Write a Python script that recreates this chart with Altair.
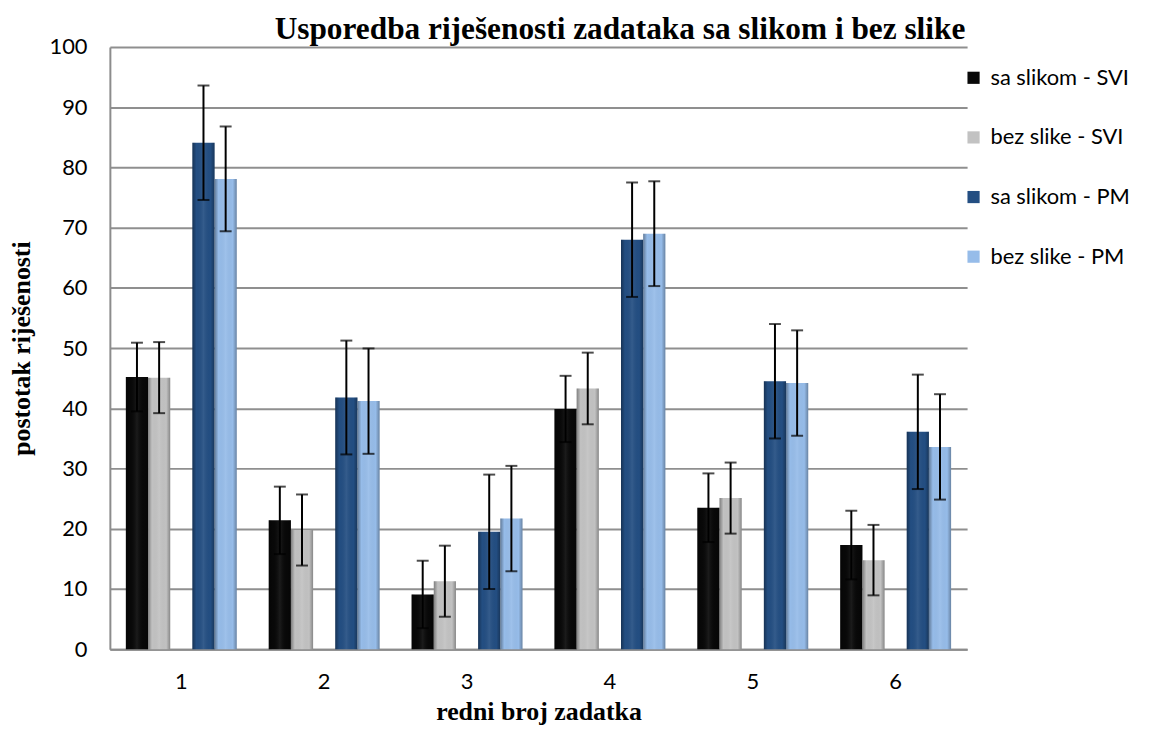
import altair as alt
import pandas as pd

categories = ["1", "2", "3", "4", "5", "6"]
series = ["sa slikom - SVI", "bez slike - SVI", "sa slikom - PM", "bez slike - PM"]
colors = ["#080808", "#c2c2c2", "#234e82", "#96bce9"]

sa_slikom_svi = [45.2, 21.4, 9.1, 39.9, 23.5, 17.3]
bez_slike_svi = [45.1, 19.8, 11.3, 43.3, 25.1, 14.8]
sa_slikom_pm = [84.1, 41.8, 19.5, 68.0, 44.5, 36.1]
bez_slike_pm = [78.1, 41.2, 21.7, 69.0, 44.2, 33.6]

err_sa_slikom_svi = [5.7, 5.6, 5.6, 5.5, 5.7, 5.7]
err_bez_slike_svi = [5.9, 5.9, 5.9, 5.95, 5.9, 5.85]
err_sa_slikom_pm = [9.5, 9.45, 9.5, 9.5, 9.5, 9.5]
err_bez_slike_pm = [8.7, 8.75, 8.75, 8.7, 8.75, 8.75]

vals = [sa_slikom_svi, bez_slike_svi, sa_slikom_pm, bez_slike_pm]
errs = [err_sa_slikom_svi, err_bez_slike_svi, err_sa_slikom_pm, err_bez_slike_pm]

rows = []
for s, vv, ee in zip(series, vals, errs):
    for c, v, e in zip(categories, vv, ee):
        rows.append({"zadatak": c, "serija": s, "vrijednost": v,
                     "lo": v - e, "hi": v + e})
df = pd.DataFrame(rows)

offset_domain = [series[0], series[1], "_", series[2], series[3]]

x_enc = alt.X("zadatak:N",
              scale=alt.Scale(domain=categories, paddingInner=0.224, paddingOuter=0.112),
              axis=alt.Axis(title="redni broj zadatka", labelAngle=0, tickSize=0,
                            labelPadding=22, titlePadding=7, grid=False,
                            domainColor="#8c8c8c", domainWidth=2,
                            labelFont="Lato", labelFontSize=22, labelColor="#000000",
                            titleFont="Liberation Serif", titleFontSize=26,
                            titleFontWeight="bold", titleColor="#000000"))
xo_enc = alt.XOffset("serija:N", scale=alt.Scale(domain=offset_domain, paddingInner=0, paddingOuter=0))
y_axis = alt.Axis(title="postotak riješenosti", values=list(range(0, 101, 10)),
                  tickSize=0, labelPadding=23, titlePadding=15,
                  gridColor="#8f8f8f", gridWidth=2, domainColor="#8c8c8c", domainWidth=2,
                  labelFont="Lato", labelFontSize=22, labelColor="#000000",
                  titleFont="Liberation Serif", titleFontSize=26,
                  titleFontWeight="bold", titleColor="#000000")

base = alt.Chart(df)

bars = base.mark_bar(strokeWidth=0).encode(
    x=x_enc,
    xOffset=xo_enc,
    y=alt.Y("vrijednost:Q", scale=alt.Scale(domain=[0, 100]), axis=y_axis),
    color=alt.Color("serija:N", scale=alt.Scale(domain=series, range=colors),
                    legend=alt.Legend(title=None, orient="none", legendX=858, legendY=20,
                                      symbolType="square", symbolSize=150,
                                      symbolStrokeWidth=0, labelFont="Lato",
                                      labelFontSize=22, labelColor="#000000",
                                      labelOffset=6, rowPadding=38, padding=0)),
)

shade = base.mark_bar(
    color=alt.Gradient(
        gradient="linear",
        stops=[alt.GradientStop(color="rgba(0,0,0,0.35)", offset=0),
               alt.GradientStop(color="rgba(0,0,0,0.0)", offset=0.18),
               alt.GradientStop(color="rgba(255,255,255,0.08)", offset=0.5),
               alt.GradientStop(color="rgba(0,0,0,0.0)", offset=0.82),
               alt.GradientStop(color="rgba(0,0,0,0.3)", offset=1)],
        x1=0, x2=1, y1=0, y2=0)
).encode(x=alt.X("zadatak:N"), xOffset=alt.XOffset("serija:N"), y="vrijednost:Q")

rules = base.mark_rule(color="#000000", strokeWidth=2).encode(
    x=alt.X("zadatak:N"), xOffset=alt.XOffset("serija:N"), y="lo:Q", y2="hi:Q")
caps_lo = base.mark_tick(color="#000000", size=12, thickness=2).encode(
    x=alt.X("zadatak:N"), xOffset=alt.XOffset("serija:N"), y="lo:Q")
caps_hi = base.mark_tick(color="#000000", size=12, thickness=2).encode(
    x=alt.X("zadatak:N"), xOffset=alt.XOffset("serija:N"), y="hi:Q")

chart = alt.layer(bars, shade, rules, caps_lo, caps_hi).properties(
    width=862.5, height=606,
    title=alt.TitleParams("Usporedba riješenosti zadataka sa slikom i bez slike",
                          font="Liberation Serif", fontSize=31.5, fontWeight="bold",
                          color="#000000", anchor="middle", dx=82, offset=-9, frame="group"),
    autosize=alt.AutoSizeParams(type="none"),
    padding={"left": 102.5, "top": 37, "right": 178, "bottom": 76},
).configure_view(stroke=None).configure_axis(labelFontWeight="normal")

chart.save("out.html", embed_options={"renderer": "svg", "actions": False})
